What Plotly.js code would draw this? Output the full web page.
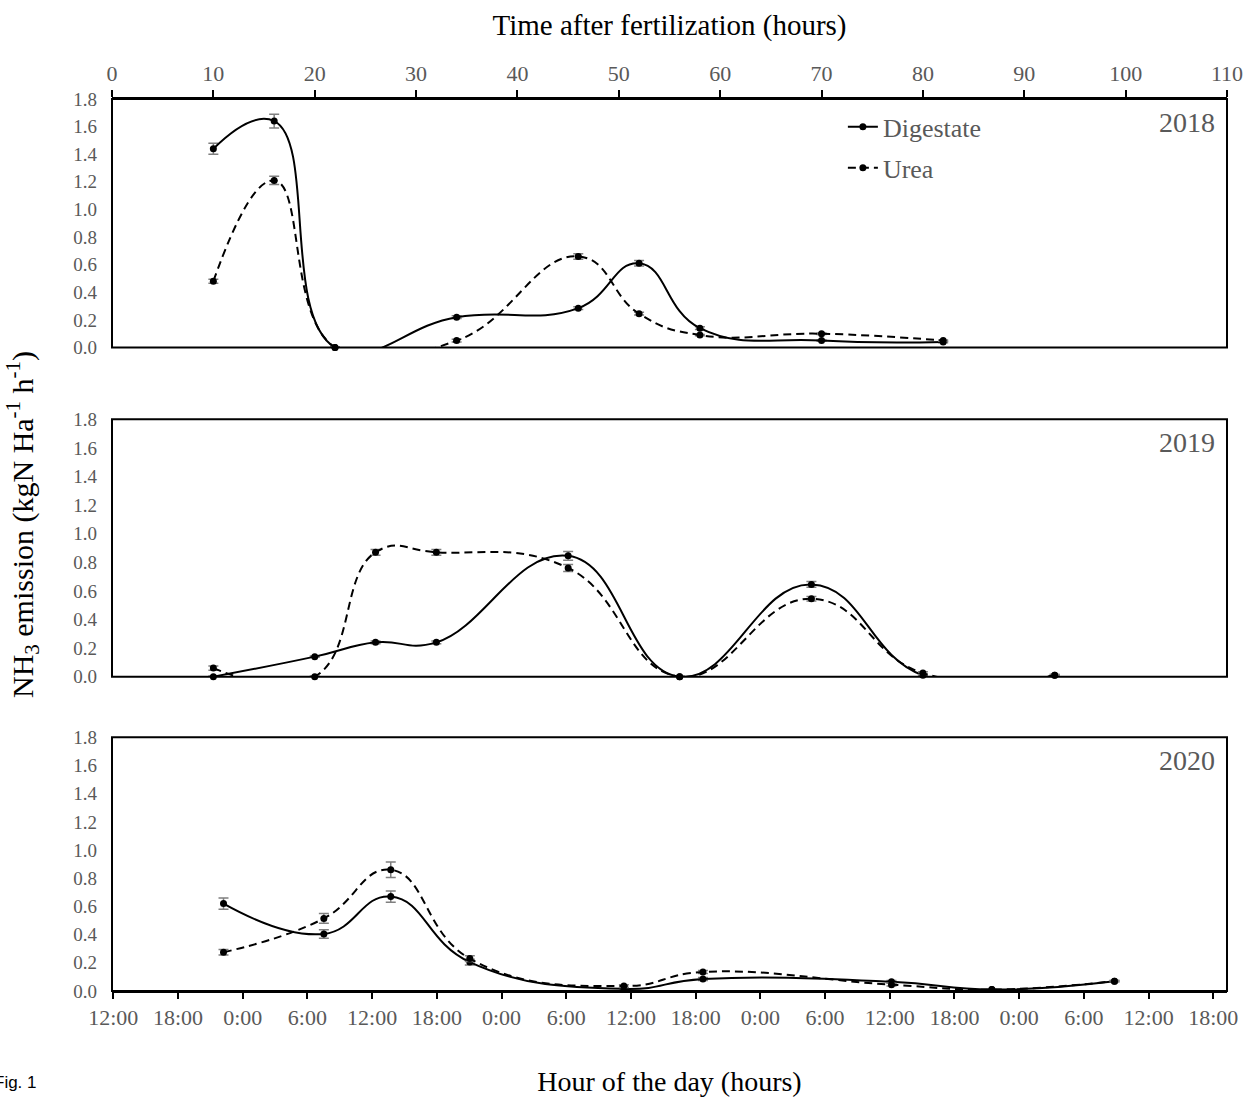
<!DOCTYPE html>
<html>
<head>
<meta charset="utf-8">
<script src="https://cdn.plot.ly/plotly-3.0.1.min.js"></script>
<style>
  html, body { margin: 0; padding: 0; background: #fff; }
  #chart { width: 1260px; height: 1097px; }
</style>
</head>
<body>
<div id="chart"></div>
<script>
// ---------- data ----------
// hours after fertilization (top axis)
const hours2018 = [10, 16, 22, 34, 46, 52, 58, 70, 82];
const digestate2018 = [1.44, 1.64, 0.00, 0.22, 0.285, 0.61, 0.14, 0.05, 0.04];
const urea2018 = [0.48, 1.21, 0.00, 0.05, 0.66, 0.245, 0.09, 0.10, 0.05];
const digestateErr2018 = [0.04, 0.05, 0.005, 0.01, 0.01, 0.02, 0.01, 0.005, 0.005];
const ureaErr2018 = [0.015, 0.03, 0.005, 0.01, 0.02, 0.01, 0.005, 0.005, 0.005];

const hours2019 = [10, 20, 26, 32, 45, 56, 69, 80, 93];
const digestate2019 = [0.00, 0.14, 0.24, 0.24, 0.845, 0.00, 0.645, 0.01, 0.01];
const urea2019 = [0.06, 0.00, 0.87, 0.87, 0.76, 0.00, 0.545, 0.025, 0.01];
const digestateErr2019 = [0.005, 0.005, 0.01, 0.01, 0.03, 0.005, 0.02, 0.005, 0.005];
const ureaErr2019 = [0.015, 0.005, 0.02, 0.02, 0.025, 0.005, 0.015, 0.01, 0.005];

const hours2020 = [11, 20.9, 27.5, 35.3, 50.5, 58.3, 76.9, 86.8, 98.9];
const digestate2020 = [0.62, 0.405, 0.67, 0.205, 0.015, 0.085, 0.065, 0.01, 0.07];
const urea2020 = [0.275, 0.515, 0.86, 0.23, 0.035, 0.135, 0.045, 0.01, 0.07];
const digestateErr2020 = [0.04, 0.03, 0.04, 0.02, 0.01, 0.01, 0.01, 0.005, 0.005];
const ureaErr2020 = [0.02, 0.035, 0.055, 0.02, 0.01, 0.01, 0.01, 0.005, 0.005];

const seriesNames = ['Digestate', 'Urea'];
const yearLabels = ['2018', '2019', '2020'];
const hourOfDayLabels = ['12:00', '18:00', '0:00', '6:00', '12:00', '18:00', '0:00', '6:00',
  '12:00', '18:00', '0:00', '6:00', '12:00', '18:00', '0:00', '6:00', '12:00', '18:00'];

const topTitle = 'Time after fertilization (hours)';
const bottomTitle = 'Hour of the day (hours)';
const yTitle = 'NH<sub>3</sub> emission (kgN Ha<sup>-1</sup> h<sup>-1</sup>)';
const figLabel = 'Fig. 1';

// ---------- styling ----------
const SERIF = 'Liberation Serif, Times New Roman, serif';
const GREY = '#595959';
const ERR_GREY = '#7f7f7f';
const DASH = '8px,5px';

function trace(x, y, err, name, dash, yaxis, showlegend) {
  return {
    type: 'scatter', mode: 'lines+markers',
    x: x, y: y, name: name, xaxis: 'x', yaxis: yaxis,
    legendgroup: name, showlegend: showlegend,
    line: { color: '#000', width: 2, shape: 'spline', smoothing: 1.3, dash: dash },
    marker: { color: '#000', size: 7 },
    error_y: { type: 'data', array: err, visible: true, color: ERR_GREY, thickness: 1.5, width: 5 },
    cliponaxis: false, hoverinfo: 'x+y'
  };
}

const data = [
  trace(hours2018, digestate2018, digestateErr2018, seriesNames[0], 'solid', 'y', true),
  trace(hours2018, urea2018, ureaErr2018, seriesNames[1], DASH, 'y', true),
  trace(hours2019, digestate2019, digestateErr2019, seriesNames[0], 'solid', 'y2', false),
  trace(hours2019, urea2019, ureaErr2019, seriesNames[1], DASH, 'y2', false),
  trace(hours2020, digestate2020, digestateErr2020, seriesNames[0], 'solid', 'y3', false),
  trace(hours2020, urea2020, ureaErr2020, seriesNames[1], DASH, 'y3', false),
  // empty trace so that the hour-of-day axis (x2) is drawn
  { type: 'scatter', mode: 'markers', x: [], y: [], xaxis: 'x2', yaxis: 'y3',
    showlegend: false, hoverinfo: 'skip' }
];

const yCommon = {
  range: [0, 1.8], dtick: 0.2, tick0: 0, tickformat: '.1f',
  ticks: '', showgrid: false, zeroline: false, showline: false,
  tickfont: { family: SERIF, size: 19, color: GREY },
  ticklabelstandoff: 14, fixedrange: true
};

const domains = [[0.7214, 1], [0.3524, 0.6409], [0, 0.2844]];

const layout = {
  width: 1260, height: 1097,
  margin: { l: 112, r: 33, t: 99, b: 106 },
  paper_bgcolor: '#fff', plot_bgcolor: 'rgba(0,0,0,0)',
  font: { family: SERIF, color: GREY },
  showlegend: true,
  legend: {
    x: 0.6555, xanchor: 'left', y: 0.995, yanchor: 'top',
    font: { family: SERIF, size: 26, color: GREY },
    bgcolor: 'rgba(0,0,0,0)', tracegroupgap: 4, itemwidth: 30
  },
  xaxis: {
    domain: [0, 1], range: [0, 110], dtick: 10, tick0: 0, anchor: 'y', side: 'top',
    ticks: 'outside', ticklen: 7, tickwidth: 1.5, tickcolor: '#000',
    showline: true, linecolor: '#000', linewidth: 2,
    showgrid: false, zeroline: false,
    tickfont: { family: SERIF, size: 22, color: GREY },
    title: { text: topTitle, font: { family: SERIF, size: 29, color: '#000' }, standoff: 17 }
  },
  xaxis2: {
    domain: [0, 1], range: [-0.12, 103.27], anchor: 'y3', side: 'bottom',
    tickvals: hourOfDayLabels.map((_, i) => i * 6), ticktext: hourOfDayLabels,
    ticks: 'outside', ticklen: 6, tickwidth: 1.5, tickcolor: '#000',
    showline: true, linecolor: '#000', linewidth: 2,
    showgrid: false, zeroline: false, fixedrange: true,
    tickfont: { family: SERIF, size: 22, color: GREY },
    title: { text: bottomTitle, font: { family: SERIF, size: 28, color: '#000' }, standoff: 46 }
  },
  yaxis: Object.assign({}, yCommon, { domain: domains[0], anchor: 'x' }),
  yaxis2: Object.assign({}, yCommon, { domain: domains[1], anchor: 'x' }),
  yaxis3: Object.assign({}, yCommon, { domain: domains[2], anchor: 'x' }),
  shapes: ['y', 'y2', 'y3'].map(a => ({
    type: 'rect', xref: 'paper', yref: a + ' domain', x0: 0, x1: 1, y0: 0, y1: 1,
    line: { color: '#000', width: 2 }, fillcolor: 'rgba(0,0,0,0)', layer: 'above'
  })),
  annotations: [
    ...['y', 'y2', 'y3'].map((a, i) => ({
      text: yearLabels[i], xref: 'paper', x: 1, xanchor: 'right', xshift: -10,
      yref: a + ' domain', y: 1, yanchor: 'top', yshift: -6, showarrow: false,
      font: { family: SERIF, size: 28, color: GREY }
    })),
    {
      text: yTitle, textangle: -90, xref: 'paper', x: -0.0807, xanchor: 'center',
      yref: 'paper', y: 0.5224, yanchor: 'middle', showarrow: false,
      font: { family: SERIF, size: 30, color: '#000' }
    },
    {
      text: figLabel, xref: 'paper', x: -0.0695, xanchor: 'right', xshift: 4,
      yref: 'paper', y: -0.1031, yanchor: 'middle', showarrow: false,
      font: { family: 'Liberation Sans, Arial, sans-serif', size: 17, color: '#000' }
    }
  ]
};

Plotly.newPlot('chart', data, layout, { displayModeBar: false, staticPlot: false });
</script>
</body>
</html>
